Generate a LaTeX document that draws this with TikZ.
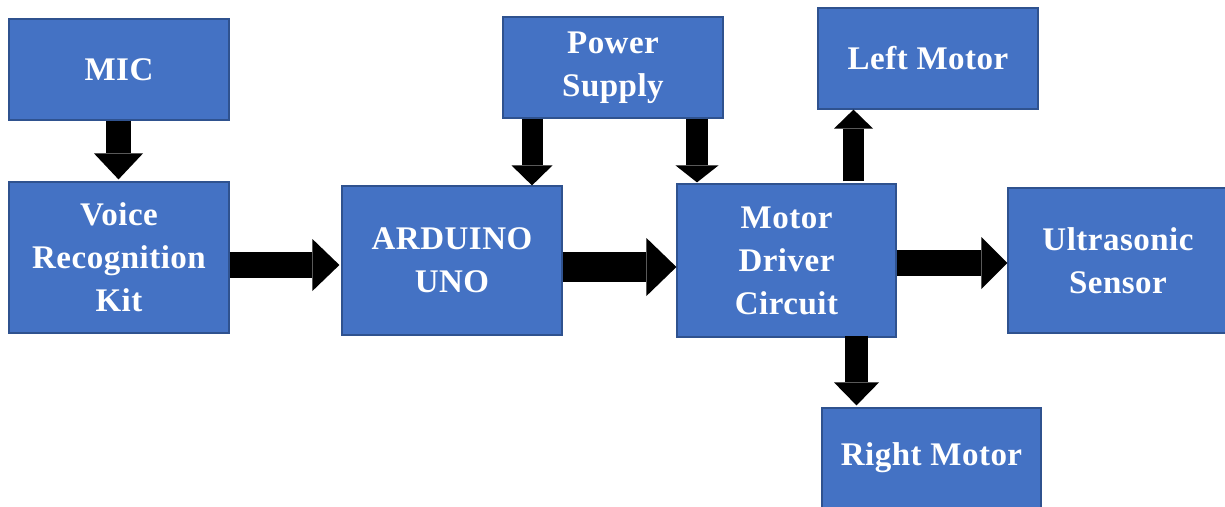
\documentclass[tikz,border=0pt]{standalone}
\usepackage{fontspec}
\setmainfont[LetterSpace=1.5]{Liberation Serif}
\usetikzlibrary{arrows.meta}
\definecolor{boxfill}{HTML}{4472C4}
\definecolor{boxline}{HTML}{2F528F}
\tikzset{
  blockbox/.style={draw=boxline, line width=1.2pt, fill=boxfill, text=white,
    font=\bfseries\fontsize{33}{43}\selectfont, align=center, inner sep=0pt},
  blk/.style n args={3}{line width=#1, draw=black,
    -{Triangle[length=#3, width=#2, line width=0pt]}}
}
\begin{document}
\begin{tikzpicture}[x=1pt, y=-1pt]
\useasboundingbox (0,0) rectangle (1225,506);
\node[blockbox, minimum width=220pt, minimum height=101pt] (mic) at (119,69.5) {MIC};
\node[blockbox, minimum width=220pt, minimum height=151pt] (voice) at (119,257.5) {Voice\\Recognition\\Kit};
\node[blockbox, minimum width=220pt, minimum height=149pt] (ard) at (452,260.5) {ARDUINO\\UNO};
\node[blockbox, minimum width=220pt, minimum height=101pt] (pow) at (613,67.5) {Power\\Supply};
\node[blockbox, minimum width=219pt, minimum height=153pt] (mot) at (786.5,260.5) {Motor\\Driver\\Circuit};
\node[blockbox, minimum width=220pt, minimum height=101pt] (left) at (928,58.5) {Left Motor};
\node[blockbox, minimum width=220pt, minimum height=145pt] (ultra) at (1118,260.5) {Ultrasonic\\Sensor};
\node[blockbox, minimum width=219pt, minimum height=100pt] (right) at (931.5,458) {Right Motor};
% connectors
\draw[blk={25pt}{49pt}{26pt}] ([xshift=-0.5pt]mic.south) -- ([xshift=-0.5pt,yshift=2pt]voice.north);
\draw[blk={26pt}{52pt}{27pt}] ([yshift=-7.5pt]voice.east) -- ([xshift=-2pt,yshift=-4.5pt]ard.west);
\draw[blk={21pt}{41pt}{20pt}] ([xshift=-81pt]pow.south) -- ([xshift=80pt]ard.north);
\draw[blk={22pt}{43pt}{17pt}] ([xshift=84pt]pow.south) -- ([xshift=-89.5pt,yshift=1pt]mot.north);
\draw[blk={30pt}{58pt}{30pt}] ([yshift=-6.5pt]ard.east) -- ([yshift=-6.5pt]mot.west);
\draw[blk={21pt}{39pt}{19pt}] ([xshift=67pt,yshift=2pt]mot.north) -- ([xshift=-74.5pt]left.south);
\draw[blk={26pt}{52pt}{26pt}] ([yshift=-2.5pt]mot.east) -- ([yshift=-2.5pt]ultra.west);
\draw[blk={23pt}{45pt}{23pt}] ([xshift=70pt,yshift=2pt]mot.south) -- ([xshift=-75pt,yshift=2pt]right.north);
\end{tikzpicture}
\end{document}
